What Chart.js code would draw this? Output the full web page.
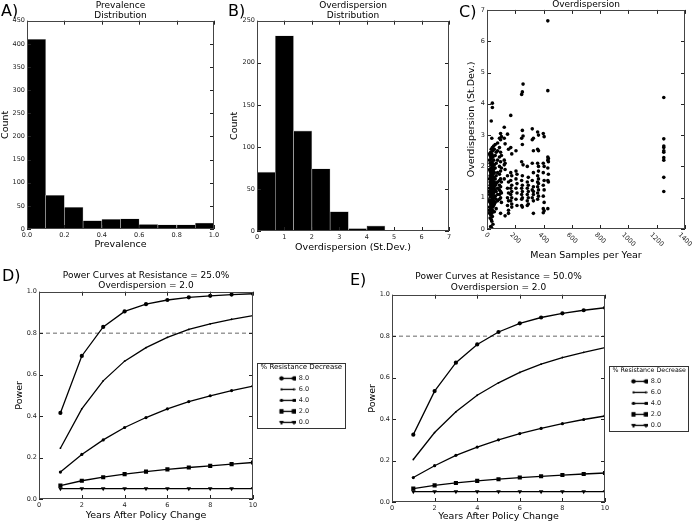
<!DOCTYPE html>
<html>
<head>
<meta charset="utf-8">
<script src="https://cdn.jsdelivr.net/npm/chart.js@4/dist/chart.umd.min.js"></script>
<style>
  body { margin: 0; background: #fff; }
  #fig { position: relative; width: 696px; height: 523px; font-family: 'DejaVu Sans'; overflow: hidden; }
  #fig canvas { position: absolute; }
  .tag { position: absolute; font-size: 16px; line-height: 16px; color: #000; }
</style>
</head>
<body>
<div id="fig">
  <canvas id="cA" width="225" height="260" style="left:0;top:0"></canvas>
  <canvas id="cB" width="232" height="260" style="left:225px;top:0"></canvas>
  <canvas id="cC" width="239" height="263" style="left:457px;top:0"></canvas>
  <canvas id="cD" width="350" height="263" style="left:0;top:260px"></canvas>
  <canvas id="cE" width="351" height="263" style="left:345px;top:260px"></canvas>
  <div class="tag" style="left:1px;top:3px">A)</div>
  <div class="tag" style="left:228px;top:3px">B)</div>
  <div class="tag" style="left:459px;top:4px">C)</div>
  <div class="tag" style="left:2px;top:268px">D)</div>
  <div class="tag" style="left:350px;top:272px">E)</div>
</div>
<script>
// A) prevalence histogram
const prevBins = [0.05, 0.15, 0.25, 0.35, 0.45, 0.55, 0.65, 0.75, 0.85, 0.95];
const prevCounts = [410, 73, 47, 18, 21, 22, 10, 9, 9, 13];

// B) overdispersion histogram
const odBins = [0.333, 1.0, 1.667, 2.333, 3.0, 3.667, 4.333, 5.0, 5.667, 6.333];
const odCounts = [70, 232, 119, 74, 23, 3, 6, 0, 0, 1];

// C) overdispersion vs mean samples per year (one x column -> its y values)
const sampleColumns = [14, 18, 22, 26, 30, 34, 38, 42, 47, 52, 58, 65, 75, 88, 96, 102,
  122, 128, 145, 152, 168, 175, 205, 212, 245, 250, 255, 285, 292, 320, 328, 358, 364,
  398, 404, 430, 434, 1250];
const overdispByColumn = [
  [1.2, 0.9, 0.6],
  [2.4, 2.2, 1.9, 1.6, 1.3, 1.1, 0.9, 0.7, 0.5],
  [2.35, 2.1, 1.85, 1.7, 1.5, 1.4, 1.2, 1.0, 0.85, 0.6, 0.35],
  [2.45, 2.3, 2.0, 1.8, 1.65, 1.45, 1.3, 1.15, 1.05, 0.95, 0.8, 0.65, 0.45, 0.08],
  [3.45, 2.55, 2.25, 2.05, 1.9, 1.75, 1.55, 1.35, 1.25, 1.1, 1.0, 0.9, 0.75, 0.55, 0.3, 0.05],
  [2.9, 2.4, 2.15, 1.95, 1.8, 1.6, 1.45, 1.3, 1.2, 1.05, 0.95, 0.85, 0.7, 0.5, 0.25, 0.02],
  [4.02, 3.88, 2.6, 2.35, 2.1, 1.85, 1.7, 1.5, 1.35, 1.2, 1.1, 0.95, 0.8, 0.6, 0.4],
  [2.5, 2.3, 2.0, 1.75, 1.55, 1.4, 1.25, 1.1, 1.0, 0.85, 0.7, 0.15],
  [2.65, 2.2, 1.9, 1.65, 1.45, 1.3, 1.15, 0.9, 0.75],
  [2.55, 2.05, 1.8, 1.5, 1.35, 1.2, 1.0, 0.8, 0.55],
  [2.7, 2.35, 1.95, 1.6, 1.4, 1.25, 1.05, 0.85],
  [2.45, 2.1, 1.7, 1.45, 1.2, 0.95, 0.65],
  [2.75, 2.5, 2.2, 1.8, 1.5, 1.3, 1.1, 0.9],
  [2.9, 2.6, 2.3, 2.0, 1.75, 1.55, 1.4, 1.25, 1.1, 0.95],
  [3.05, 2.85, 2.45, 2.15, 1.85, 1.6, 1.35, 1.2, 1.0, 0.5],
  [2.95, 2.35, 1.95, 1.5, 1.15, 0.85],
  [3.25, 2.9, 2.2, 2.05, 1.6],
  [2.72, 2.1, 1.9, 0.42],
  [3.03, 1.7, 1.3, 1.0, 0.75],
  [2.55, 1.5, 1.15, 0.9, 0.6, 0.5],
  [3.63, 2.6, 1.8, 1.55, 1.3, 1.1, 0.9],
  [2.4, 1.7, 1.4, 1.2, 1.0, 0.8, 0.7],
  [2.5, 1.85, 1.6, 1.3, 0.95],
  [1.75, 1.45, 1.15, 0.75],
  [4.3, 2.9, 2.15, 1.55, 1.3, 1.1, 0.95, 0.75],
  [4.38, 3.15, 2.7, 1.7, 1.4, 1.2, 1.0, 0.7],
  [4.63, 2.97, 2.05],
  [2.0, 1.5, 1.3, 1.1, 0.9, 0.75],
  [1.65, 1.4, 1.2, 1.0, 0.8],
  [3.2, 2.85, 2.1, 1.55, 1.25, 1.0],
  [2.9, 2.5, 1.8, 1.35, 1.2, 1.1, 0.9, 0.5],
  [3.1, 2.55, 2.1, 1.7, 1.5, 1.35, 1.15, 0.95],
  [3.0, 2.5, 2.0, 1.85, 1.6, 1.45, 1.25, 1.05],
  [3.05, 2.1, 1.8, 1.4, 1.05, 0.65, 0.52],
  [2.95, 2.0, 1.55, 1.25, 0.85, 0.58],
  [6.65, 4.42, 2.3, 2.2, 1.95, 1.55, 0.65],
  [2.25, 2.15, 1.75, 1.5],
  [4.2, 2.88, 2.65, 2.6, 2.5, 2.45, 2.28, 2.2, 1.65, 1.2]
];

// D) and E) power curves
const years = [1, 2, 3, 4, 5, 6, 7, 8, 9, 10];
const decreaseLabels = ['8.0', '6.0', '4.0', '2.0', '0.0'];
const power25 = [
  [0.415, 0.69, 0.83, 0.905, 0.94, 0.96, 0.973, 0.98, 0.986, 0.99],
  [0.245, 0.435, 0.57, 0.665, 0.73, 0.78, 0.818, 0.845, 0.867, 0.885],
  [0.13, 0.215, 0.285, 0.345, 0.393, 0.435, 0.47, 0.498, 0.523, 0.545],
  [0.065, 0.088, 0.105, 0.12, 0.132, 0.143, 0.152, 0.16, 0.168, 0.176],
  [0.05, 0.05, 0.05, 0.05, 0.05, 0.05, 0.05, 0.05, 0.05, 0.05]
];
const power50 = [
  [0.325, 0.535, 0.672, 0.76, 0.82, 0.862, 0.89, 0.91, 0.925, 0.937],
  [0.205, 0.335, 0.435, 0.515, 0.575, 0.625, 0.665, 0.697, 0.722, 0.745],
  [0.118, 0.175, 0.225, 0.265, 0.3, 0.33, 0.355, 0.378, 0.398, 0.415],
  [0.065, 0.08, 0.092, 0.102, 0.11, 0.118, 0.124, 0.13, 0.135, 0.14],
  [0.05, 0.05, 0.05, 0.05, 0.05, 0.05, 0.05, 0.05, 0.05, 0.05]
];
const powerTarget = 0.8;

Chart.defaults.font.family = "'DejaVu Sans'";
Chart.defaults.color = '#222';
Chart.defaults.animation = false;
Chart.defaults.events = [];

const FONT = "'DejaVu Sans'";

function axis(min, max, step, title, size, titlePad, fmt) {
  return {
    type: 'linear', min: min, max: max, offset: false,
    ticks: { stepSize: step, autoSkip: false, maxRotation: 0, padding: 2,
      font: { size: 6.5 }, color: '#222', callback: fmt || (v => v) },
    grid: { display: false, drawTicks: false },
    border: { display: false },
    title: { display: true, text: title, color: '#000', font: { size: 9.5 }, padding: titlePad },
    afterFit: s => { if (s.isHorizontal()) s.height = size; else s.width = size; }
  };
}

function title(lines, top, bottom) {
  return { display: true, text: lines, fullSize: false, color: '#000',
    font: { size: 9, weight: 'normal', lineHeight: lines.length > 1 ? 1.15 : 1.1 },
    padding: { top: top, bottom: bottom } };
}

// axes frame with inward ticks on all four sides
const framePlugin = {
  id: 'frame',
  afterDraw(chart, args, opts) {
    const { ctx, chartArea: a, scales } = chart;
    const xs = scales.x, ys = scales.y;
    ctx.save();
    ctx.strokeStyle = '#222';
    ctx.lineWidth = 1;
    ctx.beginPath();
    xs.ticks.forEach(t => {
      const p = Math.round(xs.getPixelForValue(t.value)) + 0.5;
      ctx.moveTo(p, a.bottom); ctx.lineTo(p, a.bottom - 4);
      ctx.moveTo(p, a.top); ctx.lineTo(p, a.top + 4);
    });
    ys.ticks.forEach(t => {
      const p = Math.round(ys.getPixelForValue(t.value)) + 0.5;
      ctx.moveTo(a.left, p); ctx.lineTo(a.left + 4, p);
      ctx.moveTo(a.right, p); ctx.lineTo(a.right - 4, p);
    });
    ctx.stroke();
    ctx.strokeStyle = '#444';
    ctx.strokeRect(Math.round(a.left) + 0.5, Math.round(a.top) + 0.5,
      Math.round(a.width) - 1, Math.round(a.height) - 1);
    if (opts.rotateX) {
      ctx.font = '6.5px ' + FONT;
      ctx.fillStyle = '#222';
      ctx.textAlign = 'center';
      ctx.textBaseline = 'middle';
      xs.ticks.forEach(t => {
        const lbl = String(t.value);
        const w = ctx.measureText(lbl).width;
        const cy = a.bottom + 3 + (w + 5) * 0.707 / 2;
        ctx.save();
        ctx.translate(xs.getPixelForValue(t.value), cy);
        ctx.rotate(Math.PI / 4);
        ctx.fillText(lbl, 0, 0);
        ctx.restore();
      });
    }
    ctx.restore();
  }
};

// box and heading around the matplotlib-like legend
const legendBoxPlugin = {
  id: 'legendBox',
  afterDraw(chart, args, opts) {
    const lg = chart.legend;
    if (!opts.text || !lg || !lg.legendHitBoxes.length) return;
    const hb = lg.legendHitBoxes;
    const first = hb[0], last = hb[hb.length - 1];
    const ctx = chart.ctx;
    ctx.save();
    ctx.font = opts.size + 'px ' + FONT;
    const w = ctx.measureText(opts.text).width + 6;
    const x0 = Math.round(lg.left + opts.dx) + 0.5;
    const y0 = Math.round(first.top - 12) + 0.5;
    const y1 = Math.round(last.top + last.height + 2.6) + 0.5;
    ctx.strokeStyle = '#333';
    ctx.lineWidth = 1;
    ctx.strokeRect(x0, y0, Math.round(w), y1 - y0);
    ctx.fillStyle = '#000';
    ctx.textAlign = 'center';
    ctx.textBaseline = 'middle';
    ctx.fillText(opts.text, x0 + w / 2, first.top - 8);
    ctx.restore();
  }
};

Chart.register(framePlugin, legendBoxPlugin);

// ---------- A ----------
new Chart(document.getElementById('cA'), {
  type: 'bar',
  data: { datasets: [{
    data: prevBins.map((b, i) => ({ x: b, y: prevCounts[i] })),
    backgroundColor: '#000', borderColor: '#bbb', borderWidth: 0.6,
    barPercentage: 1, categoryPercentage: 1
  }] },
  options: {
    responsive: false, devicePixelRatio: 1,
    layout: { padding: { left: 0, right: 11, top: 0, bottom: 0 } },
    plugins: { legend: { display: false }, tooltip: { enabled: false },
      title: title(['Prevalence', 'Distribution'], 0, 0) },
    scales: {
      x: axis(0, 1, 0.2, 'Prevalence', 31, { top: 0, bottom: 9.3 }, v => v.toFixed(1)),
      y: axis(0, 450, 50, 'Count', 27, { top: 0.3, bottom: 0 })
    }
  }
});

// ---------- B ----------
new Chart(document.getElementById('cB'), {
  type: 'bar',
  data: { datasets: [{
    data: odBins.map((b, i) => ({ x: b, y: odCounts[i] })),
    backgroundColor: '#000', borderColor: '#bbb', borderWidth: 0.6,
    barPercentage: 1, categoryPercentage: 1
  }] },
  options: {
    responsive: false, devicePixelRatio: 1,
    layout: { padding: { left: 0, right: 8, top: 0, bottom: 0 } },
    plugins: { legend: { display: false }, tooltip: { enabled: false },
      title: title(['Overdispersion', 'Distribution'], 0, 0) },
    scales: {
      x: axis(0, 7, 1, 'Overdispersion (St.Dev.)', 29, { top: 0, bottom: 6.6 }),
      y: axis(0, 250, 50, 'Count', 32, { top: 4.3, bottom: 0 })
    }
  }
});

// ---------- C ----------
const scatterPts = [];
sampleColumns.forEach((x, i) => overdispByColumn[i].forEach(y => scatterPts.push({ x: x, y: y })));
const cx = axis(0, 1400, 200, 'Mean Samples per Year', 34, { top: 0, bottom: 1.6 });
cx.ticks.display = false;
new Chart(document.getElementById('cC'), {
  type: 'scatter',
  data: { datasets: [{
    data: scatterPts, pointRadius: 1.8, pointBackgroundColor: '#000', pointBorderWidth: 0
  }] },
  options: {
    responsive: false, devicePixelRatio: 1,
    layout: { padding: { left: 0, right: 11, top: 0, bottom: 0 } },
    plugins: { legend: { display: false }, tooltip: { enabled: false },
      title: title(['Overdispersion'], 0, 0), frame: { rotateX: true } },
    scales: {
      x: cx,
      y: axis(0, 7, 1, 'Overdispersion (St.Dev.)', 30, { top: 9, bottom: 0 })
    }
  }
});

// ---------- D / E ----------
const markerStyles = [
  { style: 'circle', r: 2.1, rot: 0 },
  { style: 'circle', r: 0.9, rot: 0 },
  { style: 'circle', r: 1.6, rot: 0 },
  { style: 'rect', r: 2.9, rot: 0 },
  { style: 'triangle', r: 2.6, rot: 180 }
];

function legendImage(m) {
  const c = document.createElement('canvas');
  c.width = 38; c.height = 9;
  const g = c.getContext('2d');
  g.strokeStyle = '#000'; g.fillStyle = '#000'; g.lineWidth = 1.3;
  g.beginPath(); g.moveTo(24, 4.5); g.lineTo(37, 4.5); g.stroke();
  [24, 36.5].forEach(x => {
    Chart.helpers.drawPoint(g, { pointStyle: m.style, radius: m.r, rotation: m.rot, borderWidth: 0 }, x, 4.5);
    g.fill();
  });
  return c;
}
const legendImgs = markerStyles.map(legendImage);

function powerChart(id, series, titleLines, yW, xH, tPad, yPad, xPad, targetRight, boxSize) {
  const datasets = series.map((vals, i) => ({
    label: decreaseLabels[i],
    data: years.map((yr, j) => ({ x: yr, y: vals[j] })),
    borderColor: '#000', borderWidth: 1.3, backgroundColor: '#000',
    pointStyle: markerStyles[i].style, pointRadius: markerStyles[i].r,
    pointRotation: markerStyles[i].rot, pointBackgroundColor: '#000', pointBorderWidth: 0
  }));
  datasets.push({
    label: '', data: [{ x: 0, y: powerTarget }, { x: 10, y: powerTarget }],
    borderColor: '#666', borderWidth: 1, borderDash: [4, 3], pointRadius: 0
  });
  const ch = new Chart(document.getElementById(id), {
    type: 'line',
    data: { datasets: datasets },
    options: {
      responsive: false, devicePixelRatio: 1,
      layout: { padding: { left: 0, right: 26, top: 0, bottom: 0 } },
      plugins: {
        tooltip: { enabled: false },
        title: title(titleLines, tPad[0], tPad[1]),
        legend: {
          position: 'right', fullSize: false, align: 'center',
          title: { display: true, text: '', font: { size: 10, lineHeight: 1 }, padding: 0 },
          labels: {
            usePointStyle: true, pointStyleWidth: 38, padding: 4.5, color: '#222',
            font: { size: 6.5 },
            filter: item => item.text !== '',
            generateLabels: chart => Chart.defaults.plugins.legend.labels.generateLabels(chart)
              .map(it => Object.assign(it, { pointStyle: legendImgs[it.datasetIndex], rotation: 0 }))
          }
        },
        legendBox: { text: '% Resistance Decrease', size: boxSize, dx: 4 }
      },
      scales: {
        x: axis(0, 10, 2, 'Years After Policy Change', xH, { top: 0, bottom: xPad }),
        y: axis(0, 1, 0.2, 'Power', yW, { top: yPad, bottom: 0 }, v => v.toFixed(1))
      }
    }
  });
  const dx = ch.chartArea.right - targetRight;
  if (Math.abs(dx) > 0.2) {
    ch.options.layout.padding.right += dx;
    ch.update();
  }
  return ch;
}

powerChart('cD', power25, ['Power Curves at Resistance = 25.0%', 'Overdispersion = 2.0'],
  39, 24, [10, 1], 14.3, 1.3, 253, 7);
powerChart('cE', power50, ['Power Curves at Resistance = 50.0%', 'Overdispersion = 2.0'],
  47, 21, [11.7, 2.3], 22.3, 0.3, 260, 6.3);
</script>
</body>
</html>
